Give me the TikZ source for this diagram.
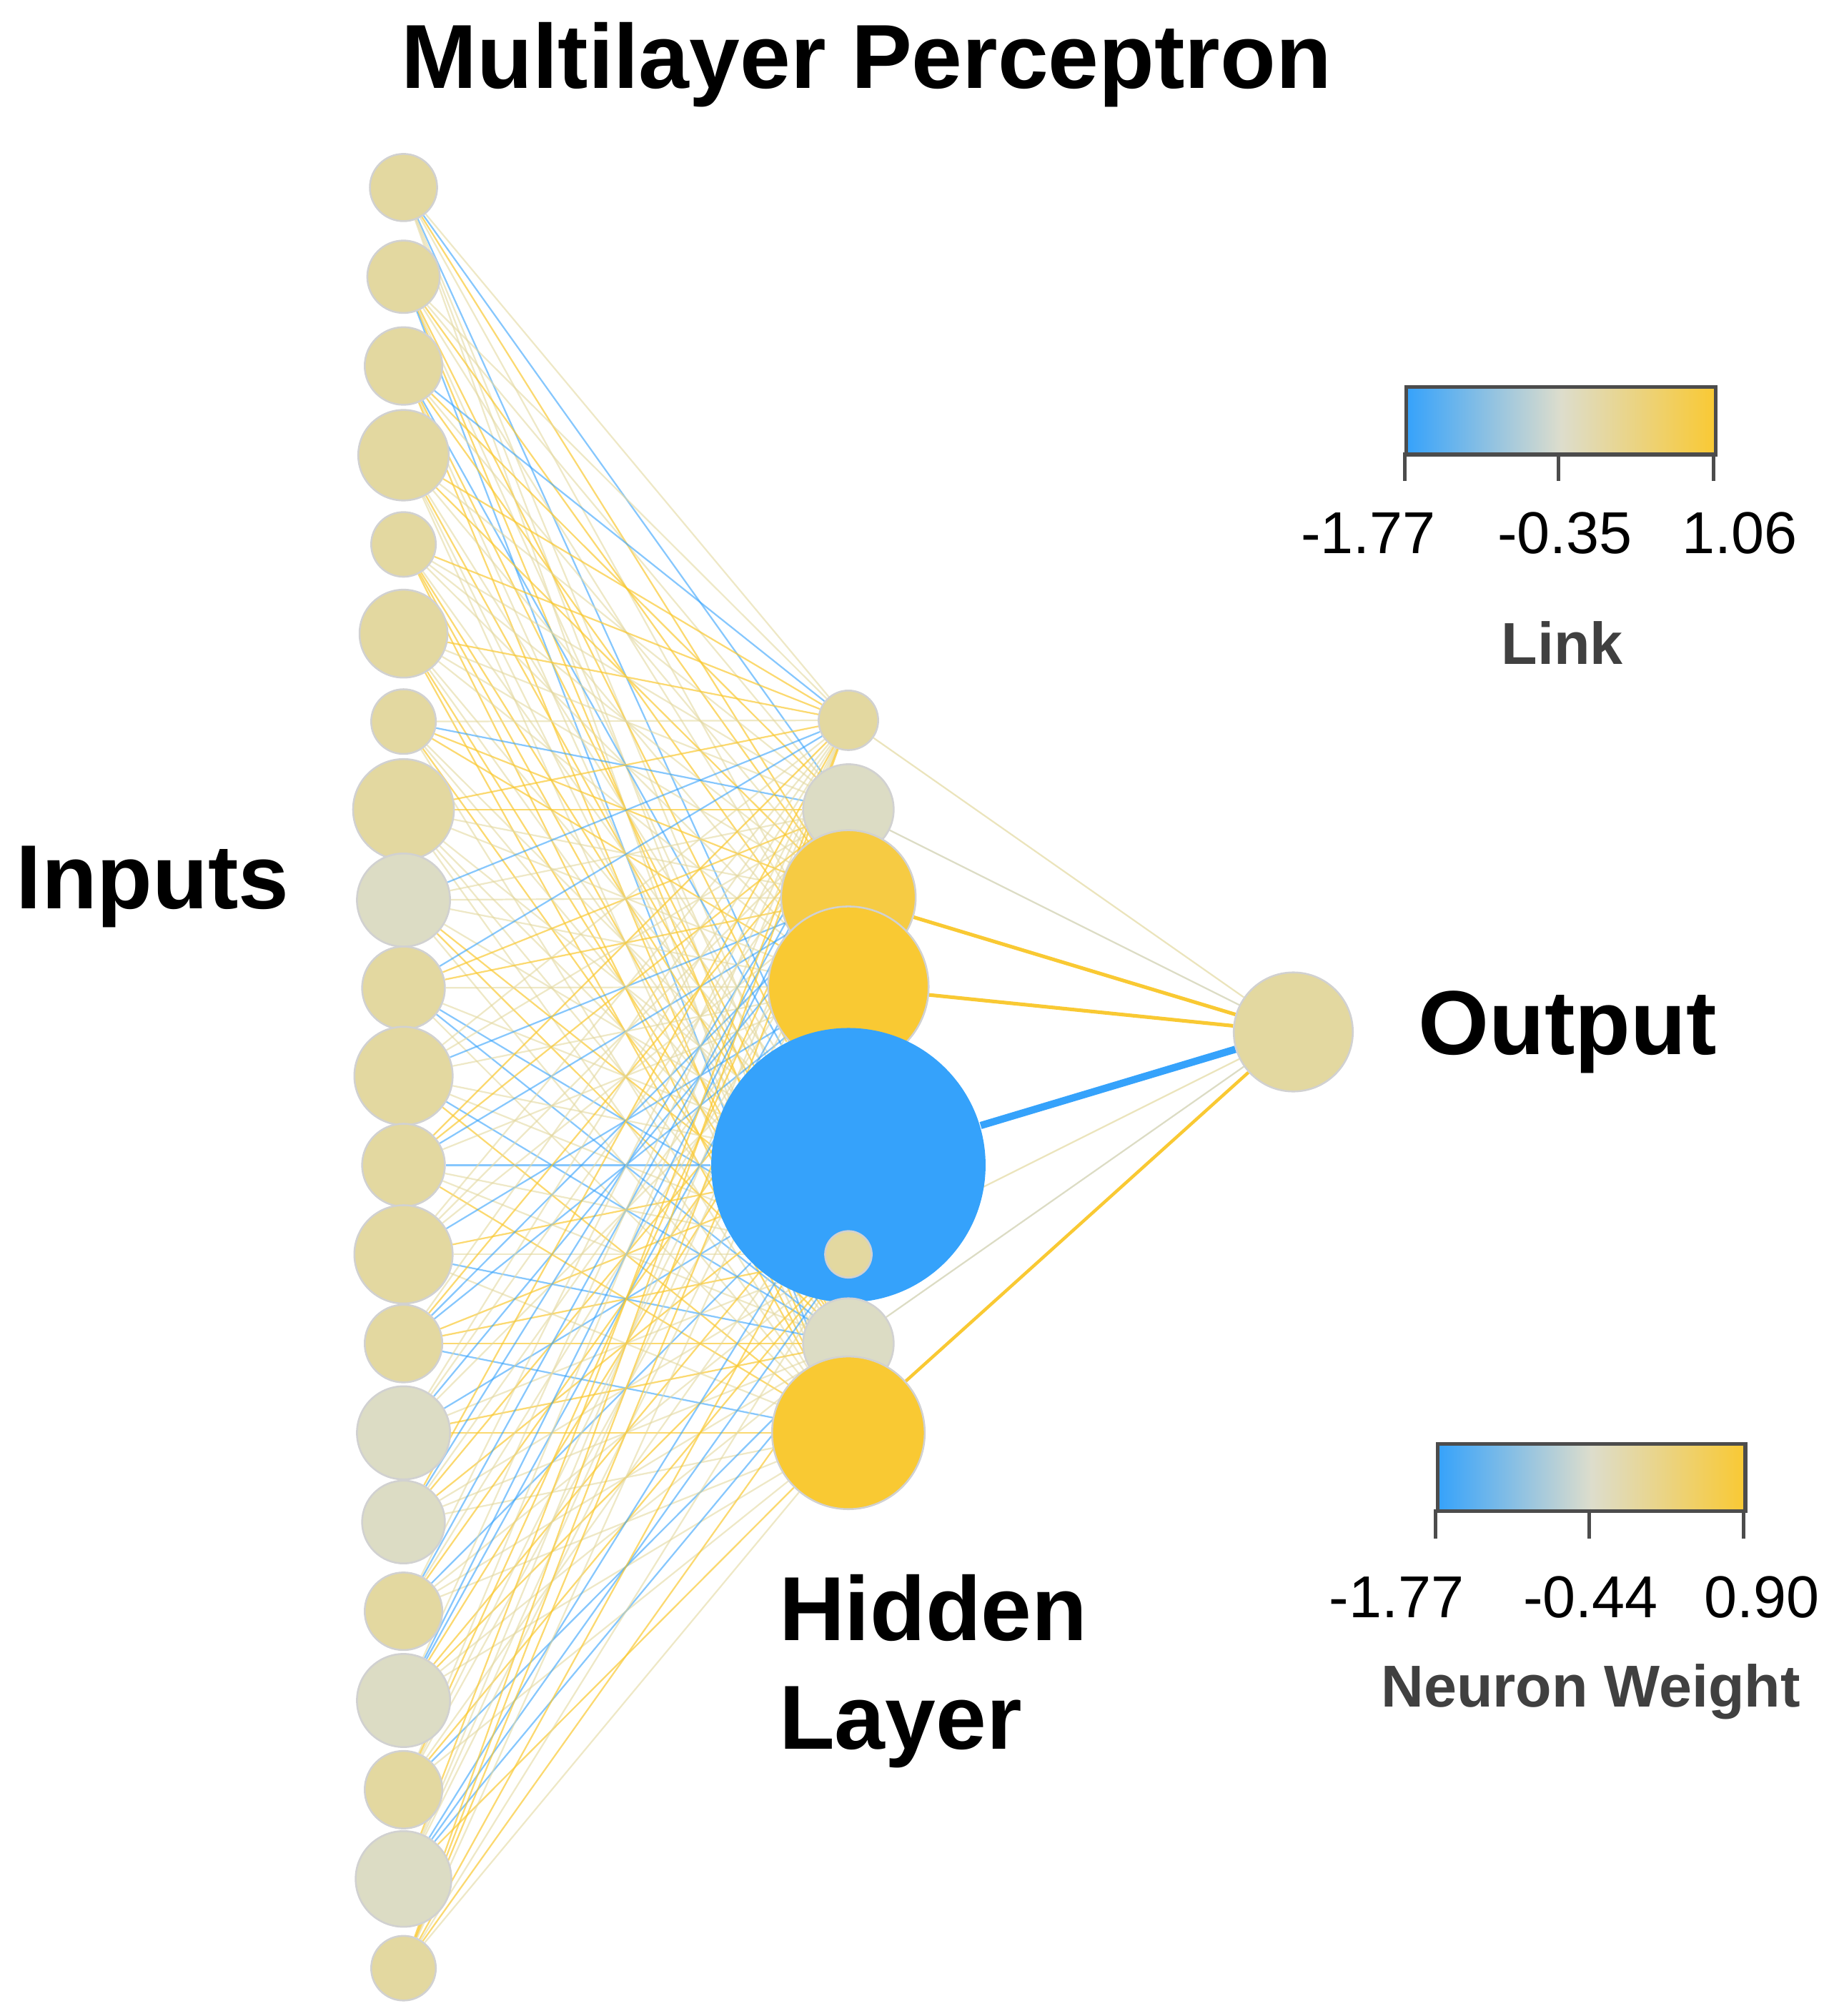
\documentclass[tikz,border=0pt]{standalone}
\usepackage{fontspec}
\setmainfont{Liberation Sans}
\usetikzlibrary{backgrounds}
\definecolor{nblue}{HTML}{35A2FB}
\definecolor{nyel}{HTML}{F9C933}
\definecolor{nbeige}{HTML}{E3D8A0}
\definecolor{ngray}{HTML}{DCDCC4}
\definecolor{nmid}{HTML}{DDDDCC}
\tikzset{
 neuron/.style={circle,draw=black!18,line width=0.4pt,inner sep=0pt,minimum size=#1},
 title/.style={font=\fontsize{20}{24}\selectfont\bfseries},
 num/.style={font=\fontsize{13}{15}\selectfont},
 lab/.style={font=\fontsize{13}{15}\selectfont\bfseries,text=black!75},
 link/.style={line width=0.35pt},
}
\begin{document}
\begin{tikzpicture}[x=0.01cm,y=-0.01cm]
\useasboundingbox (0,0) rectangle (1414,1559);
% inputs
\foreach \i/\y/\r/\c in {1/145/26/nbeige,2/214/28/nbeige,3/283/30/nbeige,4/352/35/nbeige,5/421/25/nbeige,6/490/34/nbeige,7/558/25/nbeige,8/626/39/nbeige,9/696/36/ngray,10/764/32/nbeige,11/832/38/nbeige,12/901/32/nbeige,13/970/38/nbeige,14/1039/30/nbeige,15/1108/36/ngray,16/1177/32/ngray,17/1246/30/nbeige,18/1315/36/ngray,19/1384/30/nbeige,20/1453/37/ngray,21/1522/25/nbeige}
  \node[neuron=2*\r*0.01cm,fill=\c] (i\i) at (312,\y) {};
% hidden
\node[neuron=0.46cm,fill=nbeige] (h1) at (656,557) {};
\node[neuron=0.70cm,fill=ngray] (h2) at (656,626) {};
\node[neuron=1.04cm,fill=nyel!85!nbeige] (h3) at (656,694) {};
\node[neuron=1.24cm,fill=nyel] (h4) at (656,763) {};
\node[neuron=2.12cm,fill=nblue,draw=none] (h5) at (656,901) {};
\node[neuron=0.36cm,fill=nbeige] (h6) at (656,970) {};
\node[neuron=0.70cm,fill=ngray] (h7) at (656,1039) {};
\node[neuron=1.18cm,fill=nyel] (h8) at (656,1108) {};
\node[neuron=0.92cm,fill=nbeige] (o) at (1000,798) {};
\begin{scope}[on background layer]
\pgfmathsetseed{7}
\foreach \i in {1,...,21}{
 \foreach \h in {1,...,8}{
  \pgfmathsetmacro\rr{rnd}
  \ifdim\rr pt<0.14pt
   \draw[link,nblue,opacity=0.6] (i\i) -- (h\h);
  \else\ifdim\rr pt<0.45pt
   \draw[link,nyel,opacity=0.7] (i\i) -- (h\h);
  \else
   \draw[link,nbeige,opacity=0.6] (i\i) -- (h\h);
  \fi\fi
 }}
\draw[link,nbeige!70] (h1) -- (o);
\draw[link,ngray] (h2) -- (o);
\draw[line width=0.8pt,nyel] (h3) -- (o);
\draw[line width=0.8pt,nyel] (h4) -- (o);
\draw[line width=1.6pt,nblue] (h5) -- (o);
\draw[link,nbeige!70] (h6) -- (o);
\draw[link,ngray] (h7) -- (o);
\draw[line width=0.7pt,nyel] (h8) -- (o);
\end{scope}
% titles
\node[title] (t) at (670,50) {Multilayer Perceptron};
\node[title] (tin) at (118,686) {Inputs};
\node[title] (tout) at (1212,798) {Output};
\node[title,align=left,anchor=north west] (thid) at (590,1205) {Hidden\\Layer};
% link legend
\node[draw=black!70,line width=0.8pt,minimum width=2.39cm,minimum height=0.52cm,inner sep=0pt,left color=nblue,right color=nyel,middle color=nmid,anchor=north west] (lb) at (1086,298) {};
\foreach \x in {1086,1205,1325} \draw[black!70,line width=0.8pt] (\x,350) -- (\x,372);
\node[num] (l1) at (1058,412) {-1.77};
\node[num] (l2) at (1210,412) {-0.35};
\node[num] (l3) at (1345,412) {1.06};
\node[lab] (ll) at (1208,497) {Link};
% neuron legend
\node[draw=black!70,line width=0.8pt,minimum width=2.38cm,minimum height=0.52cm,inner sep=0pt,left color=nblue,right color=nyel,middle color=nmid,anchor=north west] (nb) at (1110,1115) {};
\foreach \x in {1110,1229,1348} \draw[black!70,line width=0.8pt] (\x,1167) -- (\x,1190);
\node[num] (n1) at (1080,1235) {-1.77};
\node[num] (n2) at (1230,1235) {-0.44};
\node[num] (n3) at (1362,1235) {0.90};
\node[lab] (nl) at (1230,1308) {Neuron Weight};
\end{tikzpicture}
\end{document}
